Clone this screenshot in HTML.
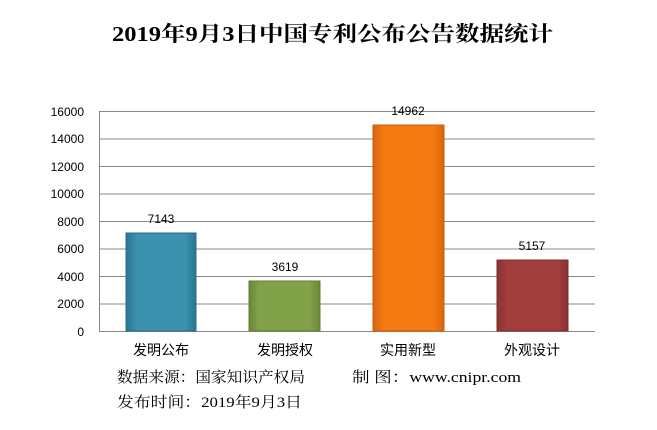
<!DOCTYPE html>
<html><head><meta charset="utf-8"><style>
body{margin:0;background:#fff;width:657px;height:430px;overflow:hidden;font-family:"Liberation Sans","Noto Sans CJK SC",sans-serif;}
</style></head><body>
<svg width="657" height="430" xmlns="http://www.w3.org/2000/svg" style="position:absolute;left:0;top:0">
<defs>
<linearGradient id="b1" x1="0" x2="1"><stop offset="0" stop-color="#2a7590"/><stop offset="0.15" stop-color="#3a92ae"/><stop offset="0.85" stop-color="#3a92ae"/><stop offset="1" stop-color="#2a7590"/></linearGradient>
<linearGradient id="b2" x1="0" x2="1"><stop offset="0" stop-color="#6a8838"/><stop offset="0.15" stop-color="#82a24a"/><stop offset="0.85" stop-color="#82a24a"/><stop offset="1" stop-color="#6a8838"/></linearGradient>
<linearGradient id="b3" x1="0" x2="1"><stop offset="0" stop-color="#d8650e"/><stop offset="0.15" stop-color="#f47a12"/><stop offset="0.85" stop-color="#f47a12"/><stop offset="1" stop-color="#d8650e"/></linearGradient>
<linearGradient id="b4" x1="0" x2="1"><stop offset="0" stop-color="#8a3232"/><stop offset="0.15" stop-color="#a33e3e"/><stop offset="0.85" stop-color="#a33e3e"/><stop offset="1" stop-color="#8a3232"/></linearGradient>
</defs>
<text x="112" y="41" textLength="441" lengthAdjust="spacingAndGlyphs" font-size="21" font-weight="bold" fill="#000" font-family="Liberation Serif, Noto Serif CJK SC, serif">2019年9月3日中国专利公布公告数据统计</text>
<g stroke="#888" stroke-width="1">
<line x1="99" y1="111.5" x2="595" y2="111.5"/><line x1="99" y1="139" x2="595" y2="139"/><line x1="99" y1="166.5" x2="595" y2="166.5"/><line x1="99" y1="194" x2="595" y2="194"/><line x1="99" y1="221.5" x2="595" y2="221.5"/><line x1="99" y1="249" x2="595" y2="249"/><line x1="99" y1="276.5" x2="595" y2="276.5"/><line x1="99" y1="304" x2="595" y2="304"/><line x1="99" y1="331.5" x2="595" y2="331.5"/>
<line x1="99.5" y1="111" x2="99.5" y2="332"/>
</g>
<g font-size="12" fill="#000" text-anchor="end">
<text x="84" y="116">16000</text><text x="84" y="143">14000</text><text x="84" y="171">12000</text><text x="84" y="198">10000</text><text x="84" y="226">8000</text><text x="84" y="253">6000</text><text x="84" y="281">4000</text><text x="84" y="308">2000</text><text x="84" y="336">0</text>
</g>
<rect x="126" y="233" width="70" height="98" fill="url(#b1)" stroke="#2a6d85" stroke-width="1"/>
<rect x="249" y="281" width="71" height="50" fill="url(#b2)" stroke="#627f33" stroke-width="1"/>
<rect x="373" y="125" width="71" height="206" fill="url(#b3)" stroke="#c85c0c" stroke-width="1"/>
<rect x="497" y="260" width="71" height="71" fill="url(#b4)" stroke="#7e2d2d" stroke-width="1"/>
<g font-size="12" fill="#000" text-anchor="middle">
<text x="161" y="223">7143</text><text x="285" y="271">3619</text><text x="408" y="115">14962</text><text x="532" y="250">5157</text>
</g>
<g font-size="14" fill="#000" text-anchor="middle">
<text x="161" y="355">发明公布</text><text x="285" y="355">发明授权</text><text x="408" y="355">实用新型</text><text x="532" y="355">外观设计</text>
</g>
<g font-size="15" fill="#000" font-family="Liberation Serif, Noto Serif CJK SC, serif">
<text x="117" y="382" textLength="188" lengthAdjust="spacingAndGlyphs">数据来源：国家知识产权局</text>
<text x="352" y="382" textLength="169" lengthAdjust="spacingAndGlyphs">制 图：www.cnipr.com</text>
<text x="117" y="407" textLength="185" lengthAdjust="spacingAndGlyphs">发布时间：2019年9月3日</text>
</g>
</svg>
</body></html>
